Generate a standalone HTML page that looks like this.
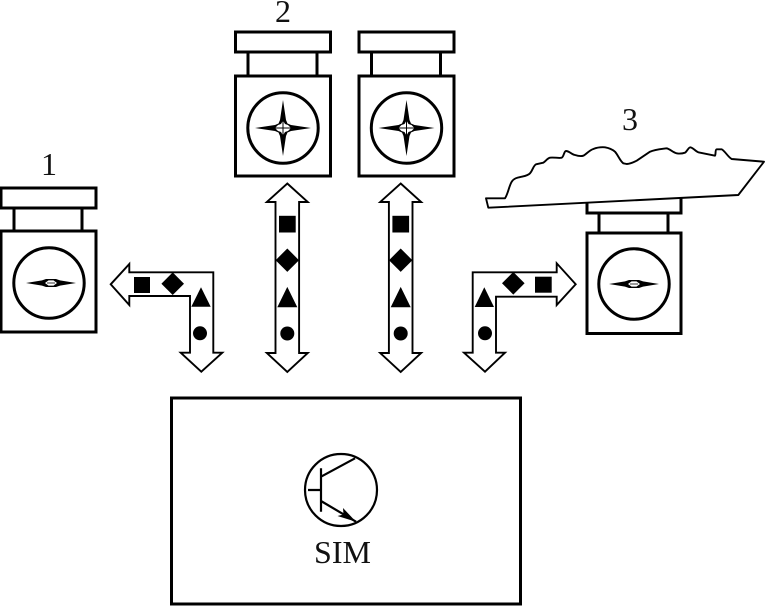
<!DOCTYPE html>
<html>
<head>
<meta charset="utf-8">
<style>
html,body{margin:0;padding:0;background:#fff;width:765px;height:606px;overflow:hidden}
svg{display:block}
text{font-family:"Liberation Serif",serif;fill:#111}
</style>
</head>
<body>
<svg width="765" height="606" viewBox="0 0 765 606" xmlns="http://www.w3.org/2000/svg">
<defs>
<g id="star">
  <path fill="#000" d="M0 -28L3 -8L4.5 -4.5L8 -3L28 0L8 3L4.5 4.5L3 8L0 28L-3 8L-4.5 4.5L-8 3L-28 0L-8 -3L-4.5 -4.5L-3 -8Z"/>
  <path fill="#fff" d="M0 -7.5L2 -4L5 -3L8 0L5 3L2 4L0 7.5L-2 4L-5 3L-8 0L-5 -3L-2 -4Z"/>
  <path fill="none" stroke="#000" stroke-width="1" d="M0 -8V8M-8 0H8"/>
</g>
<g id="flatstar">
  <path fill="#000" d="M-25 0L-9 -2.6L-5 -4H5L9 -2.6L25 0L9 2.6L5 4H-5L-9 2.6Z"/>
  <path fill="#fff" d="M-6 0L-2.5 -2.6H2.5L6 0L2.5 2.6H-2.5Z"/>
  <path fill="none" stroke="#000" stroke-width=".8" d="M-4 0H4"/>
</g>
<g id="tall" fill="none" stroke="#000" stroke-width="3">
  <rect x="-47.5" y="-96" width="95" height="20" fill="#fff"/>
  <path d="M-35 -76V-52M34 -76V-52"/>
  <rect x="-47.5" y="-52" width="95" height="100"/>
  <circle cx="0" cy="0" r="35.2"/>
  <use href="#star" stroke="none"/>
</g>
<g id="va">
  <path d="M0 0L20.5 18.5H11.8V169.5H20.5L0 188.5L-20.5 169.5H-11.8V18.5H-20.5Z" fill="#fff" stroke="#000" stroke-width="1.9"/>
  <rect x="-8.3" y="32.3" width="16.7" height="16.7" fill="#000"/>
  <path d="M0 65L11.7 76.7L0 88.4L-11.7 76.7Z" fill="#000"/>
  <path d="M0 103.4L10 123.7H-10Z" fill="#000"/>
  <circle cx="0" cy="150" r="7" fill="#000"/>
</g>
</defs>

<text x="49" y="175" font-size="32" text-anchor="middle">1</text>
<text x="283" y="22" font-size="32" text-anchor="middle">2</text>
<text x="630" y="130" font-size="32" text-anchor="middle">3</text>

<use href="#tall" x="283" y="128"/>
<use href="#tall" x="406.5" y="128"/>

<!-- left device -->
<g fill="none" stroke="#000" stroke-width="3">
  <rect x="1" y="188" width="95" height="20" fill="#fff"/>
  <path d="M14 208V231M82 208V231"/>
  <rect x="1" y="231" width="95" height="101"/>
  <circle cx="49" cy="283" r="35.2"/>
</g>
<use href="#flatstar" x="51" y="283"/>

<!-- right device -->
<g fill="none" stroke="#000" stroke-width="3">
  <rect x="587" y="193" width="94" height="20" fill="#fff"/>
  <path d="M599 213V233M668 213V233"/>
  <rect x="587" y="233" width="94" height="100.500"/>
  <circle cx="634" cy="284" r="35.2"/>
</g>
<use href="#flatstar" x="634" y="284"/>

<path fill="#fff" stroke="#000" stroke-width="1.9" stroke-linejoin="round" d="M486 198.300L505 198.300C508 194 509 186 511.700 181.700C514 178 518 177.500 521.700 176.700C525 176 528 175.500 530 173.300C533 170 533 166 536 164.300L543.300 162.700C546 161 547 158.500 550 157.700C553 157 559 158.500 561.700 157.700C564 156.500 564 151 566 151C569 151 572 154.500 575 155C578 156 581 156.500 583.300 155.700C586 154.500 589 150.500 593.300 149C597 147.500 601 147 605 147.300C609 148 612 149 615 151.700C618 155 620 161 623.300 163.300L626.700 164C630 164 633 162.500 636.700 160.700L650 151.700C655 149.500 662 149 666.700 148.300C670 149 673 152.500 676.700 153.300C680 154 682 153.700 685 152.700C687 151.500 688.500 147.300 690.300 147.300C693 147.500 695 151 698.300 152.300L715 155.700C716 154 715 149.500 716.700 149.300L721.700 149.300C725 151 728 157 731.700 159L764 161.700L738.300 195L488.300 207.700Z"/>

<use href="#va" x="287.3" y="183.5"/>
<use href="#va" x="400.7" y="183.5"/>

<g>
  <path d="M110.7 284.300L129.300 264V272.300H213.300V352.700H222.300L201.300 371.700L180.700 352.700H190V296H129.300V305Z" fill="#fff" stroke="#000" stroke-width="1.9"/>
  <rect x="134" y="277" width="16" height="16" fill="#000"/>
  <path d="M172.700 272.400L184 283.700L172.700 295L161.400 283.700Z" fill="#000"/>
  <path d="M201 287.300L210.700 306.700H191.300Z" fill="#000"/>
  <circle cx="200" cy="333.300" r="7" fill="#000"/>
</g>
<g>
  <path d="M575.700 284.300L556.700 263.300V272.300H472.700V352.700H464L485 371.700L505 352.700H496V296.700H556.700V305Z" fill="#fff" stroke="#000" stroke-width="1.9"/>
  <rect x="535" y="276.700" width="16.700" height="16" fill="#000"/>
  <path d="M513.300 272L524.600 283.300L513.300 294.600L502 283.300Z" fill="#000"/>
  <path d="M484.300 287.300L494 307H474.700Z" fill="#000"/>
  <circle cx="485" cy="333.300" r="7" fill="#000"/>
</g>

<rect x="171.500" y="398" width="349" height="206" fill="none" stroke="#000" stroke-width="3"/>
<g fill="none" stroke="#000" stroke-width="2.200">
  <circle cx="341" cy="490" r="36"/>
  <path d="M321 468.300V511.700M308 490H321M321 476.700L355 458.300M321 501L356 521.700"/>
</g>
<path d="M356 521.700L337.500 516L343.500 514.500L343 508Z" fill="#000"/>
<text x="342.500" y="563" font-size="32" text-anchor="middle">SIM</text>
</svg>
</body>
</html>
